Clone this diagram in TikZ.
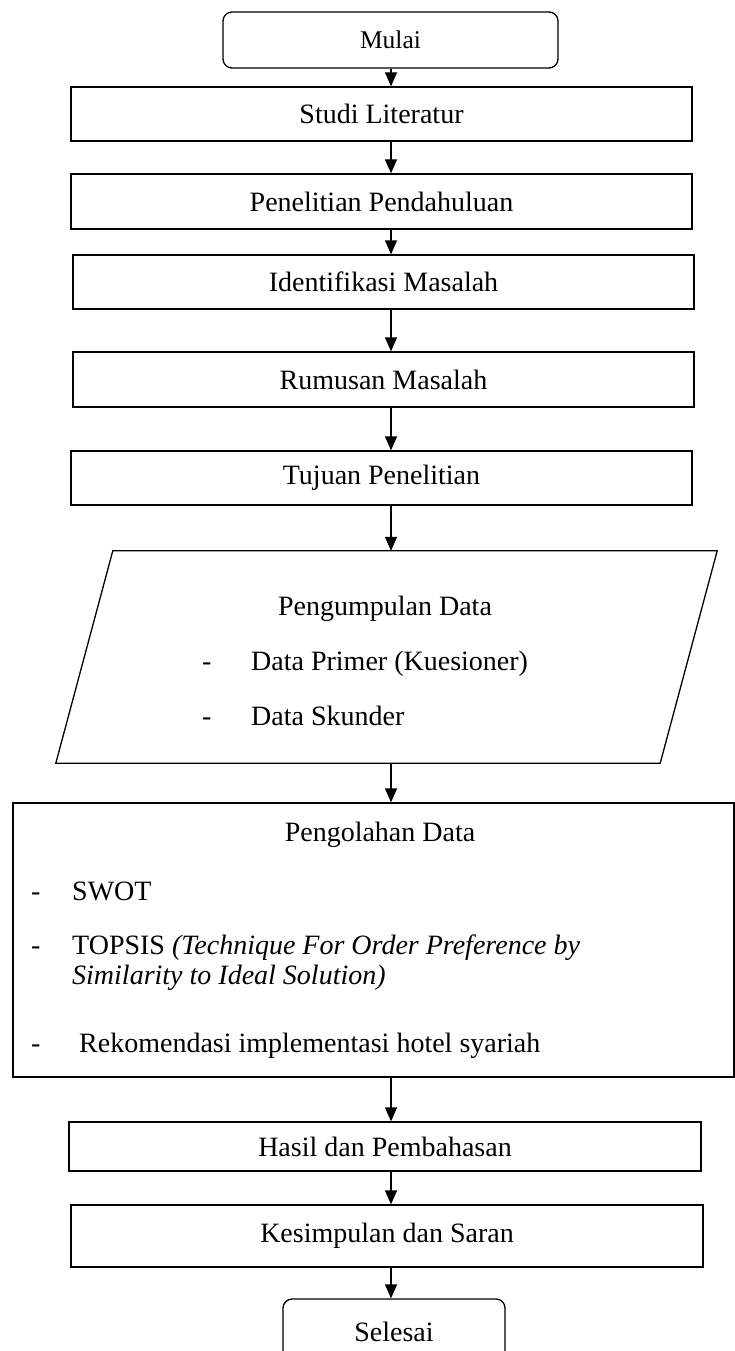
\documentclass[tikz,border=0pt]{standalone}
\usepackage{fontspec}
\setmainfont{Liberation Serif}
\usetikzlibrary{arrows.meta}

\begin{document}
\begin{tikzpicture}[
  x=1pt, y=-1pt,
  box/.style={draw, line width=1.3pt, minimum width=621pt, minimum height=54pt, inner sep=0pt, font=\fontsize{28}{30}\selectfont},
  terminal/.style={box, rounded corners=9pt},
  txt/.style={inner sep=0pt, font=\fontsize{28}{30}\selectfont},
  arrow/.style={-{Triangle[length=14pt, width=12pt]}, line width=1.3pt}
]
\useasboundingbox (0,0) rectangle (735,1351);
\coordinate (axis) at (391,0);

\node[terminal, minimum width=335pt, minimum height=56pt, font=\fontsize{25.5}{27}\selectfont] (mulai) at (390.5,40) {Mulai};
\node[box] (studi) at (381.5,114) {Studi Literatur};
\node[box, minimum height=55pt] (pendahuluan) at (381.5,201.5) {Penelitian Pendahuluan};
\node[box] (identifikasi) at (383.5,282) {Identifikasi Masalah};
\node[box, minimum height=55pt] (rumusan) at (383.5,379.5) {Rumusan Masalah};
\node[box] (tujuan) at (381.5,478) {Tujuan Penelitian};

% pengumpulan data
\node[minimum width=604pt, minimum height=212pt, inner sep=0pt] (kumpul) at (386.5,657) {};
\draw[line width=1.3pt] ([xshift=28.5pt]kumpul.north west) -- ([xshift=28.5pt]kumpul.north east)
  -- ([xshift=-28.5pt]kumpul.south east) -- ([xshift=-28.5pt]kumpul.south west) -- cycle;
\node[txt, anchor=base] (kumpul-judul) at (385,615) {Pengumpulan Data};
\node[txt, anchor=base west] (primer-dash) at (202,670) {-};
\node[txt, anchor=base west] (primer) at (251,670) {Data Primer (Kuesioner)};
\node[txt, anchor=base west] (skunder-dash) at (202,725) {-};
\node[txt, anchor=base west] (skunder) at (251,725) {Data Skunder};

% pengolahan data
\node[box, minimum width=721pt, minimum height=274pt] (olah) at (373.5,940) {};
\node[txt, anchor=base] (olah-judul) at (380,841) {Pengolahan Data};
\node[txt, anchor=base west] (swot-dash) at (31,900) {-};
\node[txt, anchor=base west] (swot) at (72,900) {SWOT};
\node[txt, anchor=base west] (topsis-dash) at (31,954) {-};
\node[txt, anchor=base west] (topsis) at (72,954) {TOPSIS \textit{(Technique For Order Preference by}};
\node[txt, anchor=base west] (topsis2) at (72,984) {\textit{Similarity to Ideal Solution)}};
\node[txt, anchor=base west] (rekom-dash) at (31,1052) {-};
\node[txt, anchor=base west] (rekom) at (79,1052) {Rekomendasi implementasi hotel syariah};

\node[box, minimum width=632pt, minimum height=49pt] (hasil) at (385,1146.5) {Hasil dan Pembahasan};
\node[box, minimum width=632pt, minimum height=62pt] (kesimpulan) at (387,1236) {Kesimpulan dan Saran};
\node[terminal, minimum width=222pt, minimum height=66pt] (selesai) at (394,1332) {Selesai};

\draw[arrow] (mulai.south -| axis) -- (studi.north -| axis);
\draw[arrow] (studi.south -| axis) -- (pendahuluan.north -| axis);
\draw[arrow] (pendahuluan.south -| axis) -- (identifikasi.north -| axis);
\draw[arrow] (identifikasi.south -| axis) -- (rumusan.north -| axis);
\draw[arrow] (rumusan.south -| axis) -- (tujuan.north -| axis);
\draw[arrow] (tujuan.south -| axis) -- (kumpul.north -| axis);
\draw[arrow] (kumpul.south -| axis) -- (olah.north -| axis);
\draw[arrow] (olah.south -| axis) -- (hasil.north -| axis);
\draw[arrow] (hasil.south -| axis) -- (kesimpulan.north -| axis);
\draw[arrow] (kesimpulan.south -| axis) -- (selesai.north -| axis);
\end{tikzpicture}
\end{document}
